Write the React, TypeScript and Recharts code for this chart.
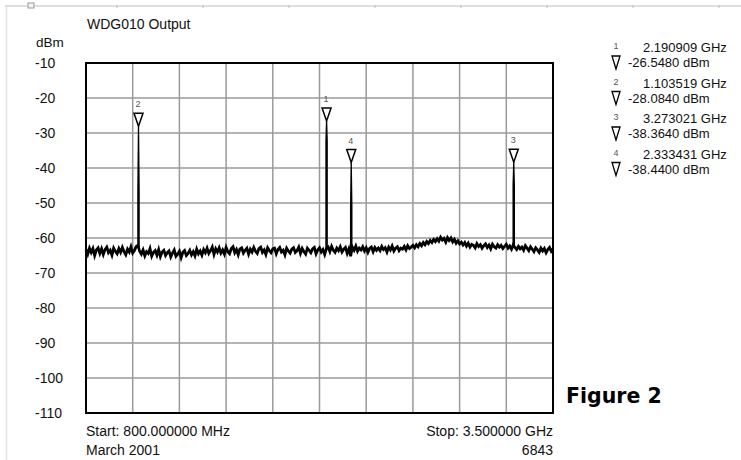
import React from 'react';
import { ComposedChart, Line, Scatter, XAxis, YAxis, CartesianGrid, ReferenceArea } from 'recharts';

// ---- axis / frequency span ----
const startMHz = 800;
const stopMHz = 3500;
const xGridTicks = [800, 1070, 1340, 1610, 1880, 2150, 2420, 2690, 2960, 3230, 3500];
const yTicks = [-110, -100, -90, -80, -70, -60, -50, -40, -30, -20, -10];

// ---- measured trace (noise floor), one reading every 10 MHz from 800 MHz ----
const traceStepMHz = 10;
const traceLevels = [
  -63.2, -64.6, -62.9, -64.1, -63.0, -65.0, -63.4, -62.8, -64.4, -63.1,
  -64.7, -63.3, -62.6, -64.2, -63.5, -64.9, -62.9, -63.8, -64.5, -63.0,
  -64.1, -62.7, -63.9, -64.8, -63.2, -64.0, -62.5, -64.3, -63.6, -62.4,
  -62.1, -63.8, -64.6, -63.4, -65.1, -63.9, -64.4, -63.0, -65.2, -64.1,
  -63.6, -64.9, -63.3, -65.3, -64.0, -63.5, -65.0, -64.2, -63.7, -65.4,
  -64.3, -63.4, -65.2, -64.6, -63.8, -65.6, -64.1, -63.6, -65.0, -64.4,
  -63.5, -64.8, -63.9, -65.1, -63.2, -64.5, -63.7, -64.9, -63.3, -64.2,
  -62.9, -64.4, -63.6, -62.6, -64.7, -63.1, -64.0, -62.8, -64.3, -63.4,
  -64.6, -62.7, -63.9, -64.5, -63.0, -62.5, -64.2, -63.3, -64.8, -63.1,
  -62.8, -64.3, -63.5, -62.9, -64.6, -63.2, -64.0, -62.7, -63.8, -64.4,
  -63.0, -62.6, -64.1, -63.4, -64.7, -62.8, -63.6, -64.2, -63.1, -62.9,
  -64.5, -63.3, -62.7, -64.0, -63.5, -64.8, -62.9, -63.7, -64.3, -63.2,
  -62.8, -64.1, -63.6, -62.6, -64.4, -63.0, -63.9, -64.6, -62.9, -63.5,
  -64.2, -63.1, -62.7, -64.5, -63.4, -62.8, -64.0, -63.3, -64.7, -63.0,
  -62.6, -63.9, -62.4, -63.5, -64.1, -62.9, -63.6, -62.5, -64.0, -63.2,
  -62.7, -64.4, -63.1, -65.2, -62.6, -63.5, -62.3, -63.8, -62.9, -63.4,
  -62.5, -63.7, -62.8, -64.1, -63.0, -62.6, -63.9, -62.7, -63.5, -62.9,
  -63.6, -62.4, -63.3, -62.8, -64.0, -62.6, -63.4, -62.3, -63.7, -62.9,
  -62.5, -63.6, -62.9, -63.2, -62.4, -63.4, -62.2, -63.0, -62.6, -62.1,
  -62.8, -61.9, -62.5, -61.6, -62.2, -61.3, -61.9, -61.0, -61.6, -60.7,
  -61.3, -60.4, -61.0, -60.2, -60.9, -59.8, -60.6, -60.1, -61.2, -59.9,
  -60.7, -60.0, -61.1, -60.4, -61.5, -60.8, -61.7, -61.2, -62.0, -61.3,
  -62.3, -61.5, -62.6, -61.8, -62.1, -62.8, -61.6, -62.4, -61.9, -62.9,
  -62.2, -61.7, -62.7, -62.0, -63.1, -61.8, -62.5, -62.9, -61.9, -62.6,
  -62.1, -63.0, -62.4, -61.8, -62.9, -62.3, -63.2, -62.0, -62.7, -63.3,
  -62.4, -63.1, -62.6, -63.5, -62.2, -62.9, -63.6, -62.5, -63.2, -63.9,
  -62.8, -63.4, -64.1, -62.9, -63.7, -63.0, -64.2, -63.3, -62.7, -63.8,
  -63.1,
];

// ---- markers ----
const markerIds = ['1', '2', '3', '4'];
const markerFreqMHz = [2190.909, 1103.519, 3273.021, 2333.431];
const markerLevels = [-26.548, -28.084, -38.364, -38.44];
const markerShoulders = [-32.3, -46.9, -45.0, -51.0];
const markerBaseLevels = [-63.2, -62.6, -62.4, -63.4];
const legendFreqLabels = ['2.190909 GHz', '1.103519 GHz', '3.273021 GHz', '2.333431 GHz'];
const legendLevelLabels = ['-26.5480 dBm', '-28.0840 dBm', '-38.3640 dBm', '-38.4400 dBm'];

// ---- texts ----
const titleText = 'WDG010 Output';
const unitText = 'dBm';
const startText = 'Start: 800.000000 MHz';
const stopText = 'Stop: 3.500000 GHz';
const dateText = 'March 2001';
const idText = '6843';
const figureText = 'Figure 2';

const noiseData = traceLevels.map((level, i) => ({
  freq: startMHz + i * traceStepMHz,
  level,
}));

const spikeData = (() => {
  const pts: { freq: number; level: number | null }[] = [];
  const order = markerFreqMHz.map((f, i) => i).sort((a, b) => markerFreqMHz[a] - markerFreqMHz[b]);
  order.forEach((i) => {
    const f = markerFreqMHz[i];
    pts.push({ freq: f - 3.6, level: markerBaseLevels[i] });
    pts.push({ freq: f - 3.6, level: markerShoulders[i] });
    pts.push({ freq: f, level: markerLevels[i] });
    pts.push({ freq: f + 3.6, level: markerShoulders[i] });
    pts.push({ freq: f + 3.6, level: markerBaseLevels[i] });
    pts.push({ freq: f + 4, level: null });
  });
  return pts;
})();

const markerData = markerIds.map((id, i) => ({ id, freq: markerFreqMHz[i], level: markerLevels[i] }));

const FONT = '"Liberation Sans", Arial, sans-serif';

const MarkerShape = (props: any) => {
  const { cx, cy, payload } = props;
  if (cx == null || cy == null) return null;
  return (
    <g>
      <path
        d={`M${cx},${cy} L${cx - 4.5},${cy - 13} L${cx + 4.5},${cy - 13} Z`}
        fill="#fff"
        stroke="#000"
        strokeWidth={1.5}
      />
      <text x={cx - 0.5} y={cy - 19} textAnchor="middle" fontSize={9} fill="#555" fontFamily={FONT}>
        {payload.id}
      </text>
    </g>
  );
};

const YTick = (props: any) => {
  const { y, payload } = props;
  return (
    <text x={35} y={y} dy={5} textAnchor="start" fontSize={14} fill="#111" fontFamily={FONT}>
      {payload.value}
    </text>
  );
};

export default function App() {
  const legendX = 616;
  const legendTop = 47;
  const legendPitch = 35.5;
  return (
    <div style={{ position: 'absolute', left: 0, top: 0, width: 741, height: 460, background: '#fff' }}>
      <ComposedChart
        width={741}
        height={460}
        data={noiseData}
        margin={{ top: 63, right: 188, bottom: 47, left: 0 }}
      >
        <CartesianGrid stroke="#9a9a9a" strokeWidth={1.5} />
        <XAxis dataKey="freq" type="number" domain={[startMHz, stopMHz]} ticks={xGridTicks} hide />
        <YAxis
          type="number"
          domain={[-110, -10]}
          ticks={yTicks}
          width={86}
          axisLine={false}
          tickLine={false}
          tick={<YTick />}
          interval={0}
        />
        <ReferenceArea
          x1={startMHz}
          x2={stopMHz}
          y1={-110}
          y2={-10}
          fill="none"
          stroke="#000"
          strokeWidth={2}
          ifOverflow="visible"
        />
        <Line
          data={noiseData}
          dataKey="level"
          type="linear"
          stroke="#000"
          strokeWidth={2.8}
          dot={false}
          isAnimationActive={false}
        />
        <Line
          data={spikeData}
          dataKey="level"
          type="linear"
          stroke="#000"
          strokeWidth={1.3}
          dot={false}
          connectNulls={false}
          isAnimationActive={false}
        />
        <Scatter data={markerData} dataKey="level" shape={<MarkerShape />} isAnimationActive={false} />
      </ComposedChart>
      <svg
        width={741}
        height={460}
        style={{ position: 'absolute', left: 0, top: 0, pointerEvents: 'none' }}
        fontFamily={FONT}
      >
        {/* page frame */}
        <line x1={5} y1={6} x2={741} y2={6} stroke="#dedede" strokeWidth={2} />
        <line x1={6.5} y1={6} x2={6.5} y2={460} stroke="#e2e2e2" strokeWidth={1.5} />
        <rect x={28} y={3} width={6} height={5} fill="#f4f4f4" stroke="#999" strokeWidth={1} />
        {[117, 203, 289, 375, 461, 547, 633, 719].map((x) => (
          <line key={x} x1={x} y1={5} x2={x} y2={8} stroke="#bbb" strokeWidth={1} />
        ))}
        <text x={87} y={29} fontSize={14} fill="#111">{titleText}</text>
        <text x={36} y={47} fontSize={13.5} fill="#111">{unitText}</text>
        <text x={86} y={436} fontSize={14} fill="#111">{startText}</text>
        <text x={553} y={436} fontSize={14} fill="#111" textAnchor="end">{stopText}</text>
        <text x={86} y={455} fontSize={14} fill="#111">{dateText}</text>
        <text x={553} y={455} fontSize={14} fill="#111" textAnchor="end">{idText}</text>
        <text x={566} y={403} fontSize={20.5} fontWeight="bold" fill="#000" fontFamily='"DejaVu Sans", Verdana, sans-serif'>
          {figureText}
        </text>
        {markerIds.map((id, i) => {
          const y0 = legendTop + i * legendPitch;
          return (
            <g key={id}>
              <text x={legendX} y={y0 + 2} fontSize={9} fill="#555" textAnchor="middle">{id}</text>
              <text x={643} y={y0 + 5} fontSize={13} fill="#111">{legendFreqLabels[i]}</text>
              <path
                d={`M${legendX},${y0 + 22} L${legendX - 4},${y0 + 9} L${legendX + 4},${y0 + 9} Z`}
                fill="#fff"
                stroke="#000"
                strokeWidth={1.3}
              />
              <text x={628} y={y0 + 20} fontSize={13} fill="#111">{legendLevelLabels[i]}</text>
            </g>
          );
        })}
      </svg>
    </div>
  );
}
